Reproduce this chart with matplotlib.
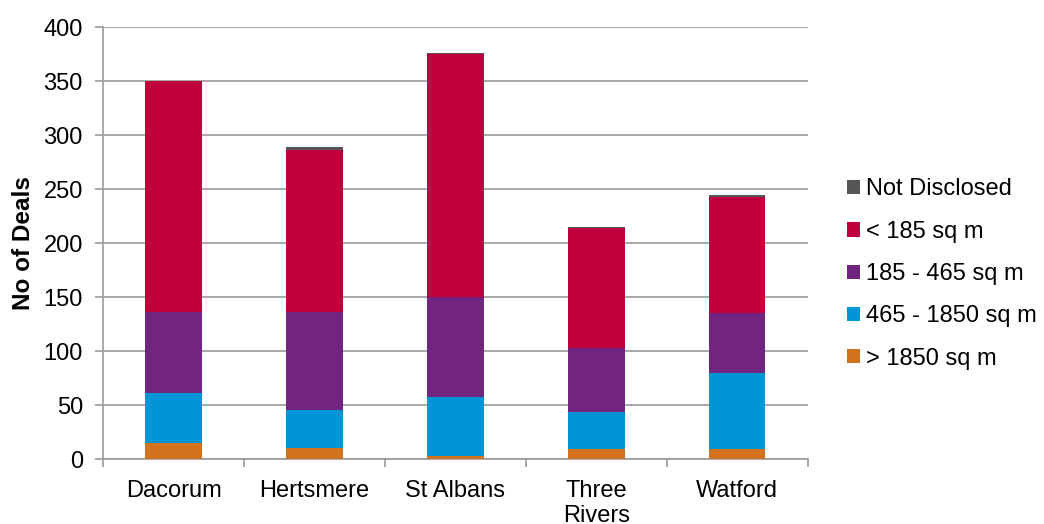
import matplotlib
matplotlib.use("Agg")
import matplotlib.pyplot as plt
import numpy as np

categories = ["Dacorum", "Hertsmere", "St Albans", "Three\nRivers", "Watford"]
over_1850 = [15, 10, 3, 9, 9]
s465_1850 = [46, 35, 54, 35, 71]
s185_465 = [75, 91, 93, 59, 55]
under_185 = [214, 150, 225, 111, 108]
not_disclosed = [0.5, 3, 1, 1, 2]

series = [
    ("> 1850 sq m", over_1850, "#D2711E"),
    ("465 - 1850 sq m", s465_1850, "#0095D6"),
    ("185 - 465 sq m", s185_465, "#72257E"),
    ("< 185 sq m", under_185, "#C0003C"),
    ("Not Disclosed", not_disclosed, "#555555"),
]

plt.rcParams['font.family'] = ['Liberation Sans', 'DejaVu Sans']
fig = plt.figure(figsize=(10.44, 5.24), dpi=100)
ax = fig.add_axes([0.0987, 0.124, 0.675, 0.824])

x = np.arange(len(categories))
bottom = np.zeros(len(categories))
handles = []
for label, vals, col in series:
    b = ax.bar(x, vals, 0.40, bottom=bottom, color=col, label=label, zorder=3)
    handles.append(b)
    bottom += np.array(vals, dtype=float)

ax.set_xlim(-0.5, len(categories) - 0.5)
ax.set_ylim(0, 400)
ax.set_yticks(np.arange(0, 401, 50))
ax.yaxis.grid(True, color="#9a9a9a", linewidth=1.2, zorder=0)
ax.set_axisbelow(True)
for s in ["top", "right"]:
    ax.spines[s].set_visible(False)
for s in ["left", "bottom"]:
    ax.spines[s].set_color("#9a9a9a")
    ax.spines[s].set_linewidth(1.2)

ax.set_xticks(x)
ax.set_xticklabels(categories, fontsize=17, linespacing=1.2, va="top")
ax.tick_params(axis="x", which="major", length=0, pad=15)
ax.set_xticks(np.arange(-0.5, len(categories), 1), minor=True)
ax.tick_params(axis="x", which="minor", length=5.5, width=1.2, color="#9a9a9a")
ax.tick_params(axis="y", labelsize=17, length=5.5, width=1.2, color="#9a9a9a", pad=9)

ax.set_ylabel("No of Deals", fontsize=17.5, fontweight="bold", labelpad=6)

leg = fig.legend(handles[::-1], [s[0] for s in series][::-1],
                 loc="center left", bbox_to_anchor=(0.802, 0.477),
                 frameon=False, fontsize=17, handlelength=0.55, handleheight=0.55,
                 handletextpad=0.25, labelspacing=0.86, borderaxespad=0)

fig.savefig("out.png", dpi=100)
